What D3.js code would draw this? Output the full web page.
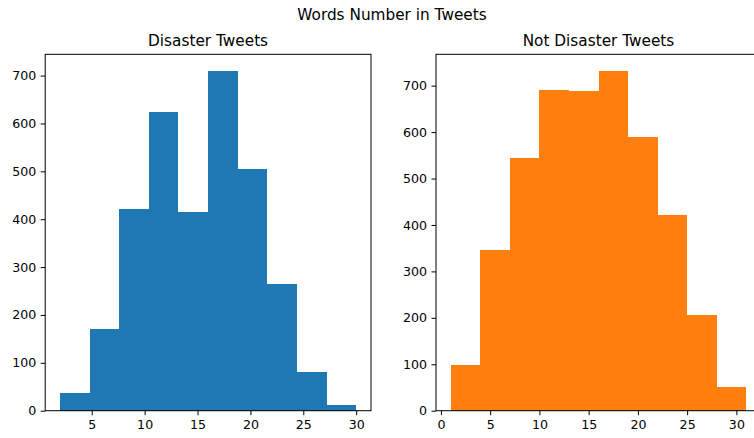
<!DOCTYPE html>
<html>
<head>
<meta charset="utf-8">
<script src="https://cdn.jsdelivr.net/npm/d3@7"></script>
<style>
  body { margin: 0; background: #fff; }
  text { font-family: "DejaVu Sans", sans-serif; fill: #000; }
</style>
</head>
<body>
<div id="chart"></div>
<script>
// Histogram bin edges and counts
var disasterEdges = [2, 4.8, 7.6, 10.4, 13.2, 16, 18.8, 21.6, 24.4, 27.2, 30];
var disasterCounts = [38, 171, 421, 624, 415, 709, 505, 265, 80, 11];

var notDisasterEdges = [1, 4, 7, 10, 13, 16, 19, 22, 25, 28, 31];
var notDisasterCounts = [99, 346, 544, 690, 688, 731, 590, 422, 206, 50];

var yTicks = [0, 100, 200, 300, 400, 500, 600, 700];
var leftXTicks = [5, 10, 15, 20, 25, 30];
var rightXTicks = [0, 5, 10, 15, 20, 25, 30];

var svgWidth = 754;
var svgHeight = 438;

var titleSize = "15.3px";
var tickSize = "12.6px";

var svg = d3.select("#chart")
  .append("svg")
  .attr("width", svgWidth)
  .attr("height", svgHeight);

// suptitle
svg.append("text")
  .attr("x", 392)
  .attr("y", 20)
  .attr("text-anchor", "middle")
  .style("font-size", titleSize)
  .text("Words Number in Tweets");

function drawHist(opts) {
  var top = 54.3, bottom = 410.7;
  var edges = opts.edges, counts = opts.counts;
  var lo = edges[0], hi = edges[edges.length - 1];
  var pad = (hi - lo) * 0.05;

  var x = d3.scaleLinear()
    .domain([lo - pad, hi + pad])
    .range([opts.left, opts.right]);

  var y = d3.scaleLinear()
    .domain([0, d3.max(counts) * 1.05])
    .range([bottom, top]);

  var g = svg.append("g");

  var bins = counts.map(function(c, i) {
    return { x0: edges[i], x1: edges[i + 1], n: c };
  });

  g.selectAll("rect.bar")
    .data(bins)
    .enter()
    .append("rect")
    .attr("class", "bar")
    .attr("x", d => x(d.x0))
    .attr("width", d => x(d.x1) - x(d.x0))
    .attr("y", d => y(d.n))
    .attr("height", d => bottom - y(d.n))
    .attr("fill", opts.color)
    .attr("shape-rendering", "crispEdges");

  // spines
  g.append("rect")
    .attr("x", opts.left)
    .attr("y", top)
    .attr("width", opts.right - opts.left)
    .attr("height", bottom - top)
    .attr("fill", "none")
    .attr("stroke", "#000")
    .attr("stroke-width", 1);

  var xAxis = d3.axisBottom(x)
    .tickValues(opts.xTicks)
    .tickFormat(d3.format("d"))
    .tickSize(4.5)
    .tickPadding(4.5);

  var yAxis = d3.axisLeft(y)
    .tickValues(yTicks)
    .tickFormat(d3.format("d"))
    .tickSize(4.5)
    .tickPadding(4.5);

  var xg = g.append("g")
    .attr("transform", `translate(0, ${bottom})`)
    .call(xAxis);
  var yg = g.append("g")
    .attr("transform", `translate(${opts.left}, 0)`)
    .call(yAxis);

  [xg, yg].forEach(function(a) {
    a.select(".domain").remove();
    a.selectAll("line").attr("stroke", "#000").attr("stroke-width", 1);
    a.selectAll("text")
      .style("font-size", tickSize)
      .style("font-family", "DejaVu Sans, sans-serif")
      .attr("fill", "#000");
  });

  g.append("text")
    .attr("x", (opts.left + opts.right) / 2)
    .attr("y", top - 8)
    .attr("text-anchor", "middle")
    .style("font-size", titleSize)
    .text(opts.title);
}

drawHist({
  edges: disasterEdges,
  counts: disasterCounts,
  left: 45.2,
  right: 371,
  color: "#1f77b4",
  xTicks: leftXTicks,
  title: "Disaster Tweets"
});

drawHist({
  edges: notDisasterEdges,
  counts: notDisasterCounts,
  left: 436,
  right: 761,
  color: "#ff7f0e",
  xTicks: rightXTicks,
  title: "Not Disaster Tweets"
});
</script>
</body>
</html>
